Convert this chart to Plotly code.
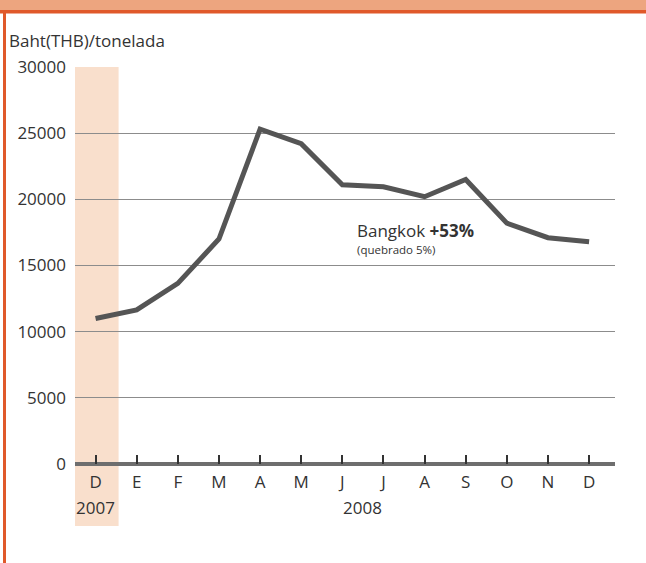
import plotly.graph_objects as go

# ── Data ──────────────────────────────────────────────────────────────────────
months = ["D", "E", "F", "M", "A", "M", "J", "J", "A", "S", "O", "N", "D"]
prices = [11000, 11650, 13650, 17000, 25300, 24200, 21100, 20950, 20200, 21500, 18200, 17100, 16800]
year_labels = ["2007", "2008"]
year_centers = [0, 6.5]

x_idx = list(range(len(months)))

FONT = "Open Sans, Noto Sans, sans-serif"
TEXT = "#333333"
ORANGE_DARK = "#E0592A"
ORANGE_LIGHT = "#EDA57F"
SHADE = "#F9DFCC"

# plot area in pixels: l=75, r=615, t=67, b=464  (646x563 canvas)
L, R, T, B = 75, 615, 67, 464
W, H = 646, 563


def px_x(p):
    return (p - L) / (R - L)


def px_y(p):
    return (B - p) / (B - T)


fig = go.Figure()

fig.add_trace(go.Scatter(
    x=x_idx,
    y=prices,
    mode="lines",
    line=dict(color="#555555", width=5),
    hoverinfo="skip",
    showlegend=False,
))

shapes = [
    # shaded December 2007 column
    dict(type="rect", xref="x", yref="paper", x0=-0.5, x1=0.56,
         y0=px_y(526), y1=1.0, fillcolor=SHADE, line=dict(width=0), layer="below"),
    # top orange band
    dict(type="rect", xref="paper", yref="paper", x0=px_x(0), x1=px_x(W),
         y0=px_y(10), y1=px_y(0), fillcolor=ORANGE_LIGHT, line=dict(width=0)),
    dict(type="rect", xref="paper", yref="paper", x0=px_x(0), x1=px_x(W),
         y0=px_y(13.5), y1=px_y(10), fillcolor=ORANGE_DARK, line=dict(width=0)),
    # left orange rule
    dict(type="rect", xref="paper", yref="paper", x0=px_x(3), x1=px_x(6),
         y0=px_y(H), y1=px_y(10), fillcolor=ORANGE_DARK, line=dict(width=0)),
]

annotations = [
    dict(text="Baht(THB)/tonelada", xref="paper", yref="paper",
         x=px_x(7), y=px_y(41), xanchor="left", yanchor="middle",
         showarrow=False, font=dict(family=FONT, size=17, color=TEXT)),
    dict(text="Bangkok <b>+53%</b>", xref="x", yref="y",
         x=6.3, y=17650, xanchor="left", yanchor="middle",
         showarrow=False, font=dict(family=FONT, size=17, color=TEXT)),
    dict(text="(quebrado 5%)", xref="x", yref="y",
         x=6.3, y=16200, xanchor="left", yanchor="middle",
         showarrow=False, font=dict(family=FONT, size=11.5, color=TEXT)),
]
for lbl, cx in zip(year_labels, year_centers):
    annotations.append(dict(
        text=lbl, xref="x", yref="paper", x=cx, y=px_y(508),
        xanchor="center", yanchor="middle", showarrow=False,
        font=dict(family=FONT, size=17, color=TEXT),
    ))

fig.update_layout(
    width=W,
    height=H,
    margin=dict(l=L, r=W - R, t=T, b=H - B),
    paper_bgcolor="white",
    plot_bgcolor="rgba(0,0,0,0)",
    font=dict(family=FONT, size=17, color=TEXT),
    shapes=shapes,
    annotations=annotations,
    xaxis=dict(
        range=[-0.5, 12.63],
        tickmode="array",
        tickvals=x_idx,
        ticktext=months,
        ticks="inside",
        ticklen=9,
        tickwidth=1.5,
        tickcolor=TEXT,
        showgrid=False,
        zeroline=False,
        showline=False,
        ticklabelstandoff=6,
        tickfont=dict(family=FONT, size=17, color=TEXT),
        fixedrange=True,
    ),
    yaxis=dict(
        range=[0, 30000],
        tickmode="array",
        tickvals=[0, 5000, 10000, 15000, 20000, 25000, 30000],
        ticktext=["0", "5000", "10000", "15000", "20000", "25000", "30000"],
        showgrid=True,
        gridcolor="#8C8C8C",
        gridwidth=1,
        zeroline=True,
        zerolinecolor="#6E6E6E",
        zerolinewidth=3.5,
        showline=False,
        ticks="",
        ticklabelstandoff=8,
        tickfont=dict(family=FONT, size=17, color=TEXT),
        fixedrange=True,
    ),
)

# drop the default 8px body margin so the figure sits flush with the window
fig.write_html(
    "out.html",
    config={"displayModeBar": False},
    post_script="document.body.style.margin='0';",
)
